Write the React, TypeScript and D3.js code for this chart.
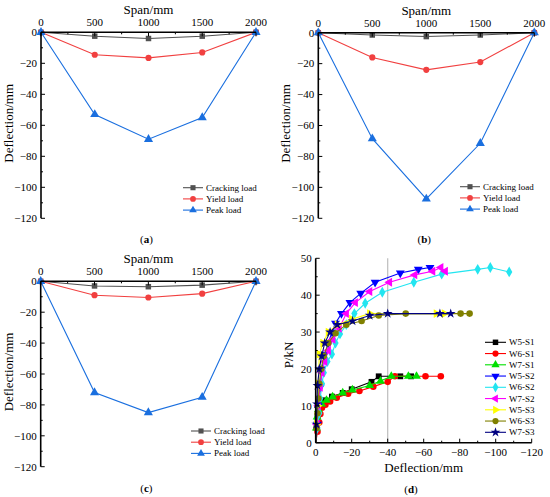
import React from "react";
import * as d3 from "d3";

// span positions (mm) for panels a-c
const spans = [0, 500, 1000, 1500, 2000];

const crackA = [0, -2.5, -4, -2.5, 0];
const yieldA = [0, -14.5, -16.5, -13, 0];
const peakA = [0, -53, -69, -55, 0];

const crackB = [0, -1.5, -2.5, -1.5, 0];
const yieldB = [0, -16, -24, -19, 0];
const peakB = [0, -68.5, -107.5, -71.5, 0];

const crackC = [0, -3, -3.5, -2.5, 0];
const yieldC = [0, -9, -10.5, -8, 0];
const peakC = [0, -72, -85, -75, 0];

const loadNames = ["Cracking load", "Yield load", "Peak load"];
const loadColors = ["#515151", "#F14040", "#1A6FDF"];

// panel d: [deflection magnitude (mm), P (kN)]
const w5s1 = [[0, 0], [0.5, 4], [1, 7], [1.5, 9], [2.5, 10.5], [5, 11.5], [9, 12.5], [15, 13.5], [20, 14.5], [31, 16.5], [35, 18], [47, 18], [53, 18]];
const w6s1 = [[0, 0], [1, 3], [2, 5.5], [2.6, 7.8], [3.5, 9.5], [5.4, 10.3], [8, 11.2], [11.7, 12.2], [18, 13.3], [24.3, 14], [32, 15.2], [40, 16.5], [44, 18], [61, 18], [69.5, 18]];
const w7s1 = [[0, 0], [0.4, 4], [0.8, 7], [1.5, 9], [3.3, 10.5], [6, 11.5], [9.4, 12.4], [15, 13.5], [20.4, 14.3], [30, 15.5], [36, 16.7], [42, 18], [51.5, 18], [56, 18]];
const w5s2 = [[0, 0], [1, 5], [1.5, 10], [2.5, 15], [3.5, 20], [5, 24], [7, 27], [9, 30], [11, 32.4], [14.3, 35], [19, 38], [25, 40.5], [33, 43.5], [47, 46], [57, 47], [63.5, 47.5]];
const w6s2 = [[0, 0], [1, 4], [2, 8], [2.5, 12], [3.5, 16], [4.5, 19], [6.5, 22], [9, 24], [11, 27], [13.5, 29.5], [17, 32], [21.5, 35], [27.5, 37.8], [37, 40.8], [54.5, 43.5], [70, 45.7], [90, 47], [97, 47.5], [107.5, 46.3]];
const w7s2 = [[0, 0], [0.8, 5], [1.5, 10], [2.5, 15], [3.5, 19], [5, 22], [7, 25], [9.5, 28], [13, 31], [17, 35], [22, 38], [30, 41], [41, 43.5], [55, 45.5], [65, 46.5], [69.5, 47.5], [72, 46.5]];
const w5s3 = [[0, 0], [0.5, 5], [1, 10], [1.5, 16], [2, 24], [4, 27], [7, 30], [12, 32], [20, 33.5], [30, 35], [67, 35], [71.5, 35]];
const w6s3 = [[0, 0], [0.5, 4], [1, 8], [1.5, 12], [2, 16], [3, 20], [4.5, 23.5], [7, 27], [11, 29.7], [17, 32], [25.5, 33], [35, 34.5], [50, 35], [80.5, 35], [85.5, 35]];
const w7s3 = [[0, 0], [0.4, 5], [0.7, 10.5], [1, 15.5], [2, 20], [3.3, 23.5], [5, 27], [8, 30], [12, 32], [20.5, 33], [30, 34.5], [40, 35], [69, 35], [75, 35]];

const specimenNames = ["W5-S1", "W6-S1", "W7-S1", "W5-S2", "W6-S2", "W7-S2", "W5-S3", "W6-S3", "W7-S3"];
const specimenData = [w5s1, w6s1, w7s1, w5s2, w6s2, w7s2, w5s3, w6s3, w7s3];
const specimenColors = ["#000000", "#FF0000", "#00E000", "#0000FF", "#22E5F0", "#FF00FF", "#FFFF00", "#808000", "#000080"];
// symbol type + rotation
const specimenSymbols: [d3.SymbolType, number][] = [
  [d3.symbolSquare, 0],
  [d3.symbolCircle, 0],
  [d3.symbolTriangle, 0],
  [d3.symbolTriangle, 180],
  [d3.symbolDiamond, 0],
  [d3.symbolTriangle, -90],
  [d3.symbolTriangle, 90],
  [d3.symbolCircle, 0],
  [d3.symbolStar, 0],
];

const loadSymbols: d3.SymbolType[] = [d3.symbolSquare, d3.symbolCircle, d3.symbolTriangle];

const FONT = "'Liberation Serif', 'Times New Roman', serif";
const fmt = (v: number) => (v < 0 ? "\u2212" + Math.abs(v) : String(v));

interface SpanPanelProps {
  xr: [number, number];
  yr: [number, number];
  series: number[][];
  legend: [number, number];
  label: string;
  labelY: number;
}

const SpanPanel: React.FC<SpanPanelProps> = ({ xr, yr, series, legend, label, labelY }) => {
  const x = d3.scaleLinear().domain([0, 2000]).range(xr);
  const y = d3.scaleLinear().domain([0, -120]).range(yr);
  const line = d3.line<number>().x((_, i) => x(spans[i])).y((d) => y(d));
  const yTicks = d3.range(0, -121, -20);
  const yMinor = d3.range(-10, -120, -20);
  const xMinor = d3.range(250, 2000, 500);
  const midX = (xr[0] + xr[1]) / 2;
  const midY = (yr[0] + yr[1]) / 2;
  return (
    <g fontFamily={FONT}>
      {series.map((s, k) => (
        <g key={k}>
          <path d={line(s)!} fill="none" stroke={loadColors[k]} strokeWidth={1.1} />
          {s.map((d, i) => (
            <path
              key={i}
              transform={`translate(${x(spans[i])},${y(d)})`}
              d={d3.symbol(loadSymbols[k], k === 2 ? 36 : 30)()!}
              fill={loadColors[k]}
            />
          ))}
        </g>
      ))}
      {/* axes */}
      <line x1={xr[0]} x2={xr[1]} y1={yr[0]} y2={yr[0]} stroke="#000" strokeWidth={1.6} />
      <line x1={xr[0]} x2={xr[0]} y1={yr[0]} y2={yr[1]} stroke="#000" strokeWidth={1.6} />
      {spans.map((t) => (
        <g key={t}>
          <line x1={x(t)} x2={x(t)} y1={yr[0]} y2={yr[0] + 4} stroke="#000" strokeWidth={1} />
          <text x={x(t)} y={yr[0] - 6} fontSize={11} textAnchor="middle">{t}</text>
        </g>
      ))}
      {xMinor.map((t) => (
        <line key={t} x1={x(t)} x2={x(t)} y1={yr[0]} y2={yr[0] + 2} stroke="#000" strokeWidth={1} />
      ))}
      {yTicks.map((t) => (
        <g key={t}>
          <line x1={xr[0]} x2={xr[0] + 4} y1={y(t)} y2={y(t)} stroke="#000" strokeWidth={1} />
          <text x={xr[0] - 4} y={y(t)} dy="0.35em" fontSize={11} textAnchor="end">{fmt(t)}</text>
        </g>
      ))}
      {yMinor.map((t) => (
        <line key={t} x1={xr[0]} x2={xr[0] + 2} y1={y(t)} y2={y(t)} stroke="#000" strokeWidth={1} />
      ))}
      <text x={midX} y={yr[0] - 18} fontSize={13} textAnchor="middle">Span/mm</text>
      <text
        transform={`translate(${xr[0] - 28},${midY - 2}) rotate(-90)`}
        fontSize={13}
        textAnchor="middle"
      >
        Deflection/mm
      </text>
      {/* legend */}
      {loadNames.map((n, k) => (
        <g key={n} transform={`translate(${legend[0]},${legend[1] + k * 11.2})`}>
          <line x1={0} x2={20} y1={0} y2={0} stroke={loadColors[k]} strokeWidth={1.1} />
          <path transform="translate(10,0)" d={d3.symbol(loadSymbols[k], 26)()!} fill={loadColors[k]} />
          <text x={23} y={0} dy="0.33em" fontSize={9}>{n}</text>
        </g>
      ))}
      <text x={midX - 2} y={labelY} fontSize={11} textAnchor="middle">
        (<tspan fontWeight="bold">{label}</tspan>)
      </text>
    </g>
  );
};

const CurvePanel: React.FC = () => {
  const xr: [number, number] = [315.7, 531.7];
  const yr: [number, number] = [442.7, 258.3];
  const x = d3.scaleLinear().domain([0, -120]).range(xr);
  const y = d3.scaleLinear().domain([0, 50]).range(yr);
  const line = d3.line<number[]>().x((d) => x(-d[0])).y((d) => y(d[1]));
  const xTicks = d3.range(0, -121, -20);
  const xMinor = d3.range(-10, -120, -20);
  const yTicks = d3.range(0, 51, 10);
  const yMinor = d3.range(5, 50, 10);
  return (
    <g fontFamily={FONT}>
      <line x1={x(-40)} x2={x(-40)} y1={yr[0]} y2={yr[1]} stroke="#bdbdbd" strokeWidth={1.2} />
      {specimenData.map((s, k) => (
        <g key={k}>
          <path d={line(s)!} fill="none" stroke={specimenColors[k]} strokeWidth={1.1} />
          {s.slice(1).map((d, i) => (
            <path
              key={i}
              transform={`translate(${x(-d[0])},${y(d[1])}) rotate(${specimenSymbols[k][1]})`}
              d={d3.symbol(specimenSymbols[k][0], k === 8 ? 30 : 34)()!}
              fill={specimenColors[k]}
            />
          ))}
        </g>
      ))}
      <line x1={xr[0]} x2={xr[1]} y1={yr[0]} y2={yr[0]} stroke="#000" strokeWidth={1.6} />
      <line x1={xr[0]} x2={xr[0]} y1={yr[0]} y2={yr[1]} stroke="#000" strokeWidth={1.6} />
      {xTicks.map((t) => (
        <g key={t}>
          <line x1={x(t)} x2={x(t)} y1={yr[0]} y2={yr[0] - 4} stroke="#000" strokeWidth={1} />
          <text x={x(t)} y={yr[0] + 13} fontSize={11} textAnchor="middle">{fmt(t)}</text>
        </g>
      ))}
      {xMinor.map((t) => (
        <line key={t} x1={x(t)} x2={x(t)} y1={yr[0]} y2={yr[0] - 2} stroke="#000" strokeWidth={1} />
      ))}
      {yTicks.map((t) => (
        <g key={t}>
          <line x1={xr[0]} x2={xr[0] + 4} y1={y(t)} y2={y(t)} stroke="#000" strokeWidth={1} />
          <text x={xr[0] - 4} y={y(t)} dy="0.35em" fontSize={11} textAnchor="end">{t}</text>
        </g>
      ))}
      {yMinor.map((t) => (
        <line key={t} x1={xr[0]} x2={xr[0] + 2} y1={y(t)} y2={y(t)} stroke="#000" strokeWidth={1} />
      ))}
      <text x={(xr[0] + xr[1]) / 2} y={472} fontSize={13} textAnchor="middle">Deflection/mm</text>
      <text transform={`translate(${xr[0] - 23},${355}) rotate(-90)`} fontSize={13} textAnchor="middle">P/kN</text>
      {specimenNames.map((n, k) => (
        <g key={n} transform={`translate(485,${342.3 + k * 11.25})`}>
          <line x1={0} x2={21} y1={0} y2={0} stroke={specimenColors[k]} strokeWidth={1.1} />
          <path
            transform={`translate(10.5,0) rotate(${specimenSymbols[k][1]})`}
            d={d3.symbol(specimenSymbols[k][0], 30)()!}
            fill={specimenColors[k]}
          />
          <text x={24} y={0} dy="0.33em" fontSize={9}>{n}</text>
        </g>
      ))}
      <text x={411} y={493} fontSize={11} textAnchor="middle">
        (<tspan fontWeight="bold">d</tspan>)
      </text>
    </g>
  );
};

export default function App() {
  return (
    <svg
      width={550}
      height={497}
      style={{ position: "absolute", left: 0, top: 0, background: "#fff" }}
    >
      <SpanPanel xr={[41, 256]} yr={[32.3, 218.3]} series={[crackA, yieldA, peakA]} legend={[183, 187.7]} label="a" labelY={243} />
      <SpanPanel xr={[318.3, 534.3]} yr={[32.7, 218.3]} series={[crackB, yieldB, peakB]} legend={[460, 186.7]} label="b" labelY={243} />
      <SpanPanel xr={[40.7, 256]} yr={[281.3, 466.7]} series={[crackC, yieldC, peakC]} legend={[191, 431]} label="c" labelY={492} />
      <CurvePanel />
    </svg>
  );
}
